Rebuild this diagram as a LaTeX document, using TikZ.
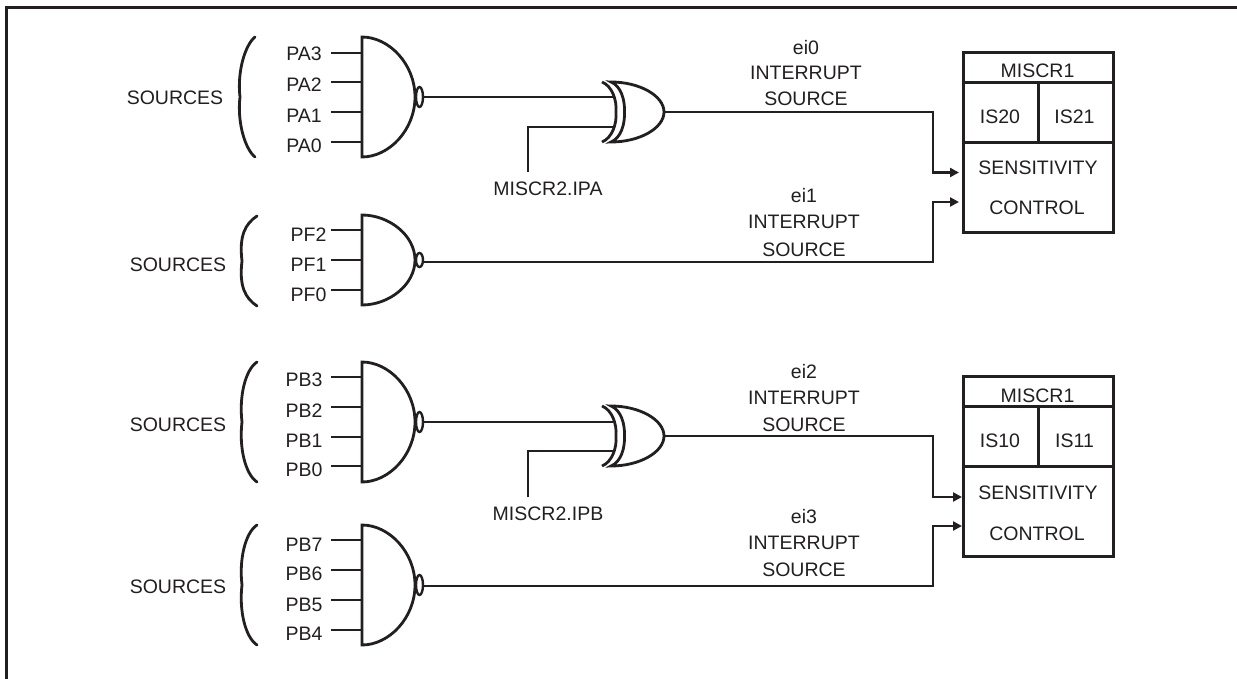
\documentclass[tikz,border=0pt]{standalone}
\usepackage{fontspec}
\setmainfont{Liberation Sans}
\usetikzlibrary{shapes.geometric,arrows.meta}
\definecolor{ink}{HTML}{231F20}
\tikzset{
  wire/.style={draw=ink,line width=2.8pt,line join=miter},
  boxline/.style={draw=ink,line width=3pt},
  lbl/.style={text=ink,inner sep=0pt,text height=14pt,text depth=0pt,
    font=\fontsize{19.5}{22}\selectfont},
  bubble/.style={ellipse,draw=ink,line width=2.4pt,fill=white,inner sep=0pt,minimum width=7pt},
  arr/.style={wire,-{Triangle[length=9pt,width=9pt]}},
}
% name, centre y, half height, bubble height, output y
\newcommand{\nandg}[5]{%
  \draw[wire] (362,#2-#3) .. controls (389,#2-#3) and (415,#2-#3*0.55) .. (415,#2)
     .. controls (415,#2+#3*0.55) and (389,#2+#3) .. (362,#2+#3) -- cycle;
  \node[bubble,minimum height=#4pt] (#1b) at (419.5,#2) {};
  \coordinate (#1o) at (423,#5);
}
% name, name of input, y
\newcommand{\pin}[3]{%
  \coordinate (#1s) at (331,#2); \coordinate (#1g) at (362,#2);
  \draw[wire] (#1s) -- (#1g);
  \node[lbl] (#1) at (#3) {#1};
}
% centre y, x top, x middle
\newcommand{\srcbrace}[3]{%
  \draw[ink,line width=2.8pt,line cap=round] (#2,#1-#3) .. controls (245,#1-#3+8) and (#2-18,#1-25) .. (#2-15,#1)
    .. controls (#2-18,#1+25) and (245,#1+#3-8) .. (#2,#1+#3);
}
% name, centre y
\newcommand{\xorg}[2]{%
  \draw[wire] (602,#2-30) .. controls (612,#2-26) and (617,#2-12) .. (616,#2)
     .. controls (617,#2+12) and (612,#2+26) .. (602,#2+30);
  \draw[wire] (611,#2-30) .. controls (621,#2-26) and (625,#2-12) .. (624.5,#2)
     .. controls (625,#2+12) and (621,#2+26) .. (611,#2+30)
     .. controls (640,#2+30) and (664,#2+16) .. (664,#2)
     .. controls (664,#2-16) and (640,#2-30) .. (611,#2-30) -- cycle;
  \coordinate (#1o) at (664,#2);
}
% name, top y
\newcommand{\ctrl}[2]{%
  \draw[boxline] (963,#2) rectangle (1113,#2+180);
  \draw[boxline] (963,#2+30) -- (1113,#2+30);
  \draw[boxline] (963,#2+90) -- (1113,#2+90);
  \draw[boxline] (1038,#2+30) -- (1038,#2+90);
}
\begin{document}
\begin{tikzpicture}[x=1pt,y=-1pt]
\useasboundingbox (0,0) rectangle (1237,679);
\fill[white] (0,0) rectangle (1237,679);
\draw[ink,line width=3pt] (6,679) -- (6,8) -- (1237,8);

% group 1
\node[lbl] (s1) at (175,98) {SOURCES};
\srcbrace{97}{255}{60}
\nandg{n1}{97}{60}{20}{97}
\pin{PA3}{53}{304,54}\pin{PA2}{82}{304,85}\pin{PA1}{112}{304,116}\pin{PA0}{142}{304,146}
\xorg{x1}{112}
\coordinate (x1a) at (613,97); \coordinate (x1b) at (613,127); \coordinate (m1) at (528,172);
\draw[wire] (n1b.east) -- (x1a);
\draw[wire] (m1) |- (x1b);
\node[lbl] (mi1) at (548,189) {MISCR2.IPA};
\coordinate (t1) at (959,172.5);
\draw[arr] (x1o) -| (933,172.5) -- (t1);

\node[lbl] (e0) at (806,48) {ei0};
\node[lbl] (e0a) at (806,73) {INTERRUPT};
\node[lbl] (e0b) at (806,99) {SOURCE};

% group 2
\node[lbl] (s2) at (178,264) {SOURCES};
\srcbrace{261}{257}{45}
\nandg{n2}{260}{45}{14}{262}
\pin{PF2}{230}{308.5,234}\pin{PF1}{260}{308.5,264}\pin{PF0}{290}{308.5,294}
\coordinate (t2) at (959,202);
\draw[arr] (n2o) -| (933,202) -- (t2);
\node[lbl] (e1) at (804,196) {ei1};
\node[lbl] (e1a) at (804,222) {INTERRUPT};
\node[lbl] (e1b) at (804,250) {SOURCE};

% control 1
\ctrl{c1}{52.5}
\node[lbl] (c1m) at (1037.5,71) {MISCR1};
\node[lbl] (c1a) at (1000,117) {IS20};
\node[lbl] (c1b) at (1074.5,117) {IS21};
\node[lbl] (c1s) at (1038,168) {SENSITIVITY};
\node[lbl] (c1c) at (1037,208) {CONTROL};

% group 3
\node[lbl] (s3) at (178,424) {SOURCES};
\srcbrace{422}{257}{60}
\nandg{n3}{422}{60}{20}{422}
\pin{PB3}{377}{304,379}\pin{PB2}{407}{304,410}\pin{PB1}{437}{304,440}\pin{PB0}{466}{304,469}
\xorg{x2}{436}
\coordinate (x2a) at (613,422); \coordinate (x2b) at (613,451); \coordinate (m2) at (528,497);
\draw[wire] (n3b.east) -- (x2a);
\draw[wire] (m2) |- (x2b);
\node[lbl] (mi2) at (548,513) {MISCR2.IPB};
\coordinate (t3) at (962,497);
\draw[arr] (x2o) -| (933,497) -- (t3);
\node[lbl] (e2) at (804,371) {ei2};
\node[lbl] (e2a) at (804,397) {INTERRUPT};
\node[lbl] (e2b) at (804,424) {SOURCE};

% group 4
\node[lbl] (s4) at (178,586) {SOURCES};
\srcbrace{585}{257}{60}
\nandg{n4}{585}{60}{20}{586}
\pin{PB7}{540}{304,544}\pin{PB6}{570}{304,573}\pin{PB5}{600}{304,604}\pin{PB4}{630}{304,633}
\coordinate (t4) at (962,526);
\draw[arr] (n4o) -| (933,526) -- (t4);
\node[lbl] (e3) at (804,516) {ei3};
\node[lbl] (e3a) at (804,542) {INTERRUPT};
\node[lbl] (e3b) at (804,569) {SOURCE};

% control 2
\ctrl{c2}{376.5}
\node[lbl] (c2m) at (1037.5,395) {MISCR1};
\node[lbl] (c2a) at (1000,440) {IS10};
\node[lbl] (c2b) at (1074.5,440) {IS11};
\node[lbl] (c2s) at (1038,492) {SENSITIVITY};
\node[lbl] (c2c) at (1037,533) {CONTROL};
\end{tikzpicture}
\end{document}
